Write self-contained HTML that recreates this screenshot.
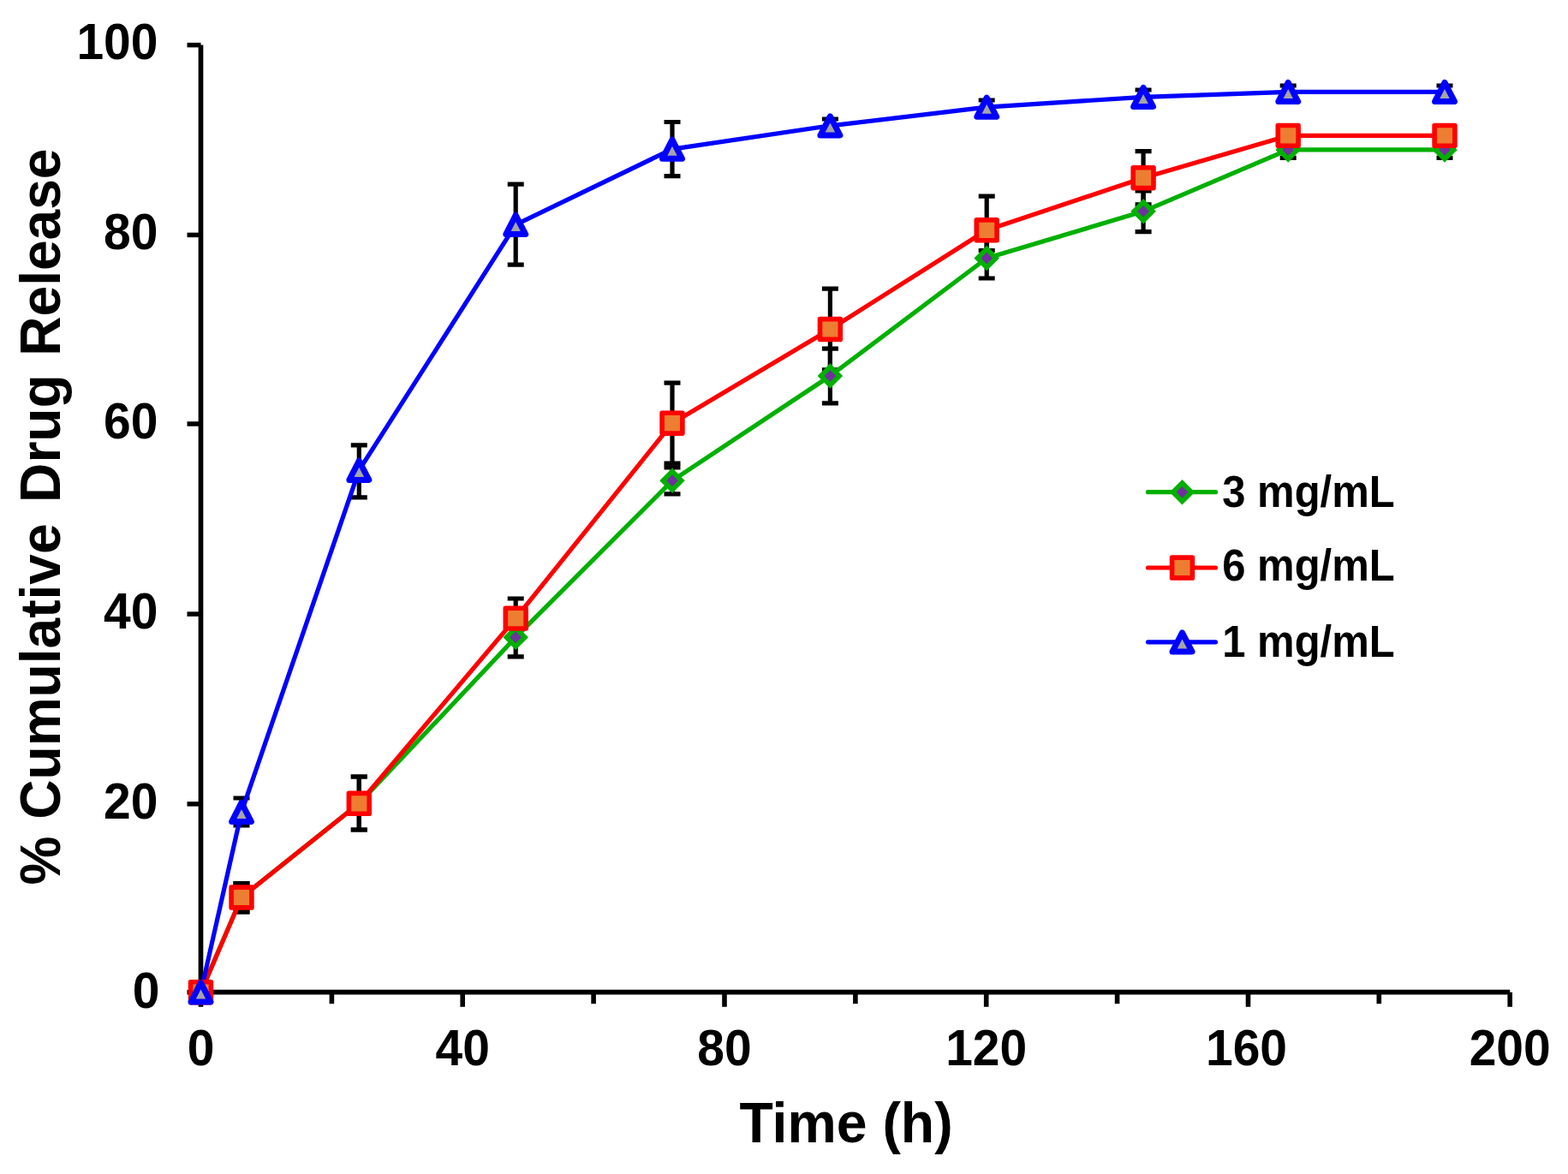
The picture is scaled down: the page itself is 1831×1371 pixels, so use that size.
<!DOCTYPE html>
<html><head><meta charset="utf-8"><title>% Cumulative Drug Release vs Time</title>
<style>
html,body{margin:0;padding:0;background:#fff;}
body{width:1831px;height:1371px;overflow:hidden;}
svg{display:block;}
text{font-family:'Liberation Sans', Arial, Helvetica, sans-serif;font-weight:bold;fill:#000;}
</style></head><body>
<svg width="1831" height="1371" viewBox="0 0 1831 1371">
<rect width="1831" height="1371" fill="#fff"/>

<path d="M234.5 52.6V1158.7H1763.2" fill="none" stroke="#000" stroke-width="5.7" stroke-linejoin="miter"/>
<line x1="218.5" y1="52.6" x2="234.5" y2="52.6" stroke="#000" stroke-width="5.5"/>
<line x1="218.5" y1="274.4" x2="234.5" y2="274.4" stroke="#000" stroke-width="5.5"/>
<line x1="218.5" y1="495.0" x2="234.5" y2="495.0" stroke="#000" stroke-width="5.5"/>
<line x1="218.5" y1="717.1" x2="234.5" y2="717.1" stroke="#000" stroke-width="5.5"/>
<line x1="218.5" y1="938.9" x2="234.5" y2="938.9" stroke="#000" stroke-width="5.5"/>
<line x1="218.5" y1="1158.7" x2="234.5" y2="1158.7" stroke="#000" stroke-width="5.5"/>
<line x1="234.5" y1="1158.7" x2="234.5" y2="1175.8" stroke="#000" stroke-width="5.6"/>
<line x1="387.4" y1="1158.7" x2="387.4" y2="1172.2" stroke="#000" stroke-width="5.6"/>
<line x1="540.2" y1="1158.7" x2="540.2" y2="1175.8" stroke="#000" stroke-width="5.6"/>
<line x1="693.1" y1="1158.7" x2="693.1" y2="1172.2" stroke="#000" stroke-width="5.6"/>
<line x1="846.0" y1="1158.7" x2="846.0" y2="1175.8" stroke="#000" stroke-width="5.6"/>
<line x1="998.9" y1="1158.7" x2="998.9" y2="1172.2" stroke="#000" stroke-width="5.6"/>
<line x1="1151.7" y1="1158.7" x2="1151.7" y2="1175.8" stroke="#000" stroke-width="5.6"/>
<line x1="1304.6" y1="1158.7" x2="1304.6" y2="1172.2" stroke="#000" stroke-width="5.6"/>
<line x1="1457.5" y1="1158.7" x2="1457.5" y2="1175.8" stroke="#000" stroke-width="5.6"/>
<line x1="1610.3" y1="1158.7" x2="1610.3" y2="1172.2" stroke="#000" stroke-width="5.6"/>
<line x1="1763.2" y1="1158.7" x2="1763.2" y2="1175.8" stroke="#000" stroke-width="5.6"/>
<text transform="translate(184.5 69.2) scale(1 1.045)" text-anchor="end" font-size="57">100</text>
<text transform="translate(184.5 291.0) scale(1 1.045)" text-anchor="end" font-size="57">80</text>
<text transform="translate(184.5 511.6) scale(1 1.045)" text-anchor="end" font-size="57">60</text>
<text transform="translate(184.5 733.7) scale(1 1.045)" text-anchor="end" font-size="57">40</text>
<text transform="translate(184.5 955.5) scale(1 1.045)" text-anchor="end" font-size="57">20</text>
<text transform="translate(186.5 1177.1) scale(1 1.045)" text-anchor="end" font-size="57">0</text>
<text transform="translate(234.5 1243.6) scale(1 1.045)" text-anchor="middle" font-size="57">0</text>
<text transform="translate(540.2 1243.6) scale(1 1.045)" text-anchor="middle" font-size="57">40</text>
<text transform="translate(846.0 1243.6) scale(1 1.045)" text-anchor="middle" font-size="57">80</text>
<text transform="translate(1151.7 1243.6) scale(1 1.045)" text-anchor="middle" font-size="57">120</text>
<text transform="translate(1455.5 1243.6) scale(1 1.045)" text-anchor="middle" font-size="57">160</text>
<text transform="translate(1763.2 1243.6) scale(1 1.045)" text-anchor="middle" font-size="57">200</text>
<text transform="translate(988.0 1333.9) scale(1 1.045)" text-anchor="middle" font-size="64.4">Time (h)</text>
<text transform="translate(69.5 0) rotate(-90) scale(1 1.045)" font-size="64.1"><tspan x="-1033.5">% </tspan><tspan x="-956.8">Cumulative </tspan><tspan x="-586.9">Drug </tspan><tspan x="-415.8">Release</tspan></text>
<path d="M282.0 1031.7V1064.8M272.5 1031.7H291.5M272.5 1064.8H291.5" stroke="#000" stroke-width="5.2" fill="none"/>
<path d="M419.3 907.0V969.0M409.8 907.0H428.8M409.8 969.0H428.8" stroke="#000" stroke-width="5.2" fill="none"/>
<path d="M602.2 721.6V766.8M592.7 721.6H611.7M592.7 766.8H611.7" stroke="#000" stroke-width="5.2" fill="none"/>
<path d="M785.0 545.8V576.8M775.5 545.8H794.5M775.5 576.8H794.5" stroke="#000" stroke-width="5.2" fill="none"/>
<path d="M969.4 407.1V470.9M959.9 407.1H978.9M959.9 470.9H978.9" stroke="#000" stroke-width="5.2" fill="none"/>
<path d="M1152.2 278.0V325.0M1142.7 278.0H1161.7M1142.7 325.0H1161.7" stroke="#000" stroke-width="5.2" fill="none"/>
<path d="M1335.1 222.9V270.7M1325.6 222.9H1344.6M1325.6 270.7H1344.6" stroke="#000" stroke-width="5.2" fill="none"/>
<path d="M1504.2 165.4V184.4M1494.7 165.4H1513.7M1494.7 184.4H1513.7" stroke="#000" stroke-width="5.2" fill="none"/>
<path d="M1687.0 165.4V184.4M1677.5 165.4H1696.5M1677.5 184.4H1696.5" stroke="#000" stroke-width="5.2" fill="none"/>
<path d="M282.0 1031.7V1064.8M272.5 1031.7H291.5M272.5 1064.8H291.5" stroke="#000" stroke-width="5.2" fill="none"/>
<path d="M419.3 907.0V969.0M409.8 907.0H428.8M409.8 969.0H428.8" stroke="#000" stroke-width="5.2" fill="none"/>
<path d="M602.2 699.0V745.0M592.7 699.0H611.7M592.7 745.0H611.7" stroke="#000" stroke-width="5.2" fill="none"/>
<path d="M785.0 447.2V541.2M775.5 447.2H794.5M775.5 541.2H794.5" stroke="#000" stroke-width="5.2" fill="none"/>
<path d="M969.4 337.2V431.8M959.9 337.2H978.9M959.9 431.8H978.9" stroke="#000" stroke-width="5.2" fill="none"/>
<path d="M1152.2 229.2V292.5M1142.7 229.2H1161.7M1142.7 292.5H1161.7" stroke="#000" stroke-width="5.2" fill="none"/>
<path d="M1335.1 176.6V238.8M1325.6 176.6H1344.6M1325.6 238.8H1344.6" stroke="#000" stroke-width="5.2" fill="none"/>
<path d="M1504.2 153.0V164.0M1494.7 153.0H1513.7M1494.7 164.0H1513.7" stroke="#000" stroke-width="5.2" fill="none"/>
<path d="M1687.0 153.0V164.0M1677.5 153.0H1696.5M1677.5 164.0H1696.5" stroke="#000" stroke-width="5.2" fill="none"/>
<path d="M282.0 932.0V964.0M272.5 932.0H291.5M272.5 964.0H291.5" stroke="#000" stroke-width="5.2" fill="none"/>
<path d="M419.3 519.9V580.8M409.8 519.9H428.8M409.8 580.8H428.8" stroke="#000" stroke-width="5.2" fill="none"/>
<path d="M602.2 215.1V309.1M592.7 215.1H611.7M592.7 309.1H611.7" stroke="#000" stroke-width="5.2" fill="none"/>
<path d="M785.0 142.5V205.7M775.5 142.5H794.5M775.5 205.7H794.5" stroke="#000" stroke-width="5.2" fill="none"/>
<path d="M969.4 139.0V154.6M959.9 139.0H978.9M959.9 154.6H978.9" stroke="#000" stroke-width="5.2" fill="none"/>
<path d="M1152.2 117.0V133.0M1142.7 117.0H1161.7M1142.7 133.0H1161.7" stroke="#000" stroke-width="5.2" fill="none"/>
<path d="M1335.1 105.0V121.5M1325.6 105.0H1344.6M1325.6 121.5H1344.6" stroke="#000" stroke-width="5.2" fill="none"/>
<path d="M1504.2 100.0V115.0M1494.7 100.0H1513.7M1494.7 115.0H1513.7" stroke="#000" stroke-width="5.2" fill="none"/>
<path d="M1687.0 100.0V115.0M1677.5 100.0H1696.5M1677.5 115.0H1696.5" stroke="#000" stroke-width="5.2" fill="none"/>
<polyline points="234.5,1158.7 282.0,1048.0 419.3,938.3 602.2,744.2 785.0,561.3 969.4,439.0 1152.2,301.5 1335.1,246.8 1504.2,174.9 1687.0,174.9" fill="none" stroke="#00B000" stroke-width="5.2" stroke-linejoin="round" stroke-linecap="round"/>
<polyline points="234.5,1158.7 282.0,1048.0 419.3,938.3 602.2,722.1 785.0,494.2 969.4,384.5 1152.2,268.8 1335.1,207.7 1504.2,158.4 1687.0,158.4" fill="none" stroke="#FF0000" stroke-width="5.2" stroke-linejoin="round" stroke-linecap="round"/>
<polyline points="234.5,1158.7 282.0,948.4 419.3,549.2 602.2,262.4 785.0,174.1 969.4,146.8 1152.2,125.1 1335.1,113.3 1504.2,107.4 1687.0,107.4" fill="none" stroke="#0000FF" stroke-width="5.2" stroke-linejoin="round" stroke-linecap="round"/>
<path d="M234.5 1147.9L245.3 1158.7L234.5 1169.5L223.7 1158.7Z" fill="#7030A0" stroke="#00B000" stroke-width="5.6" stroke-linejoin="miter"/>
<path d="M282.0 1037.2L292.8 1048.0L282.0 1058.8L271.2 1048.0Z" fill="#7030A0" stroke="#00B000" stroke-width="5.6" stroke-linejoin="miter"/>
<path d="M419.3 927.5L430.1 938.3L419.3 949.1L408.5 938.3Z" fill="#7030A0" stroke="#00B000" stroke-width="5.6" stroke-linejoin="miter"/>
<path d="M602.2 733.4L613.0 744.2L602.2 755.0L591.4 744.2Z" fill="#7030A0" stroke="#00B000" stroke-width="5.6" stroke-linejoin="miter"/>
<path d="M785.0 550.5L795.8 561.3L785.0 572.1L774.2 561.3Z" fill="#7030A0" stroke="#00B000" stroke-width="5.6" stroke-linejoin="miter"/>
<path d="M969.4 428.2L980.2 439.0L969.4 449.8L958.6 439.0Z" fill="#7030A0" stroke="#00B000" stroke-width="5.6" stroke-linejoin="miter"/>
<path d="M1152.2 290.7L1163.0 301.5L1152.2 312.3L1141.4 301.5Z" fill="#7030A0" stroke="#00B000" stroke-width="5.6" stroke-linejoin="miter"/>
<path d="M1335.1 236.0L1345.9 246.8L1335.1 257.6L1324.3 246.8Z" fill="#7030A0" stroke="#00B000" stroke-width="5.6" stroke-linejoin="miter"/>
<path d="M1504.2 164.1L1515.0 174.9L1504.2 185.7L1493.4 174.9Z" fill="#7030A0" stroke="#00B000" stroke-width="5.6" stroke-linejoin="miter"/>
<path d="M1687.0 164.1L1697.8 174.9L1687.0 185.7L1676.2 174.9Z" fill="#7030A0" stroke="#00B000" stroke-width="5.6" stroke-linejoin="miter"/>
<rect x="222.6" y="1146.8" width="23.8" height="23.8" fill="#ED7D31" stroke="#FF0000" stroke-width="5.6" stroke-linejoin="round"/>
<rect x="270.1" y="1036.1" width="23.8" height="23.8" fill="#ED7D31" stroke="#FF0000" stroke-width="5.6" stroke-linejoin="round"/>
<rect x="407.4" y="926.4" width="23.8" height="23.8" fill="#ED7D31" stroke="#FF0000" stroke-width="5.6" stroke-linejoin="round"/>
<rect x="590.3" y="710.2" width="23.8" height="23.8" fill="#ED7D31" stroke="#FF0000" stroke-width="5.6" stroke-linejoin="round"/>
<rect x="773.1" y="482.3" width="23.8" height="23.8" fill="#ED7D31" stroke="#FF0000" stroke-width="5.6" stroke-linejoin="round"/>
<rect x="957.5" y="372.6" width="23.8" height="23.8" fill="#ED7D31" stroke="#FF0000" stroke-width="5.6" stroke-linejoin="round"/>
<rect x="1140.3" y="256.9" width="23.8" height="23.8" fill="#ED7D31" stroke="#FF0000" stroke-width="5.6" stroke-linejoin="round"/>
<rect x="1323.2" y="195.8" width="23.8" height="23.8" fill="#ED7D31" stroke="#FF0000" stroke-width="5.6" stroke-linejoin="round"/>
<rect x="1492.3" y="146.5" width="23.8" height="23.8" fill="#ED7D31" stroke="#FF0000" stroke-width="5.6" stroke-linejoin="round"/>
<rect x="1675.1" y="146.5" width="23.8" height="23.8" fill="#ED7D31" stroke="#FF0000" stroke-width="5.6" stroke-linejoin="round"/>
<path d="M234.5 1147.7L245.9 1169.9L223.1 1169.9Z" fill="#A5A5A5" stroke="#0000FF" stroke-width="7" stroke-linejoin="round"/>
<path d="M282.0 937.4L293.4 959.6L270.6 959.6Z" fill="#A5A5A5" stroke="#0000FF" stroke-width="7" stroke-linejoin="round"/>
<path d="M419.3 538.2L430.8 560.4L407.9 560.4Z" fill="#A5A5A5" stroke="#0000FF" stroke-width="7" stroke-linejoin="round"/>
<path d="M602.2 251.4L613.7 273.6L590.8 273.6Z" fill="#A5A5A5" stroke="#0000FF" stroke-width="7" stroke-linejoin="round"/>
<path d="M785.0 163.1L796.5 185.3L773.5 185.3Z" fill="#A5A5A5" stroke="#0000FF" stroke-width="7" stroke-linejoin="round"/>
<path d="M969.4 135.8L980.9 158.0L957.9 158.0Z" fill="#A5A5A5" stroke="#0000FF" stroke-width="7" stroke-linejoin="round"/>
<path d="M1152.2 114.1L1163.7 136.3L1140.8 136.3Z" fill="#A5A5A5" stroke="#0000FF" stroke-width="7" stroke-linejoin="round"/>
<path d="M1335.1 102.3L1346.5 124.5L1323.6 124.5Z" fill="#A5A5A5" stroke="#0000FF" stroke-width="7" stroke-linejoin="round"/>
<path d="M1504.2 96.4L1515.7 118.6L1492.8 118.6Z" fill="#A5A5A5" stroke="#0000FF" stroke-width="7" stroke-linejoin="round"/>
<path d="M1687.0 96.4L1698.5 118.6L1675.5 118.6Z" fill="#A5A5A5" stroke="#0000FF" stroke-width="7" stroke-linejoin="round"/>
<line x1="1340.5" y1="574.7" x2="1419.5" y2="574.7" stroke="#00B000" stroke-width="5.2" stroke-linecap="round"/>
<path d="M1380.5 563.9L1391.3 574.7L1380.5 585.5L1369.7 574.7Z" fill="#7030A0" stroke="#00B000" stroke-width="5.6" stroke-linejoin="miter"/>
<text transform="translate(1427.2 591.6) scale(1 1.045)" font-size="49">3 mg/mL</text>
<line x1="1340.5" y1="663.0" x2="1419.5" y2="663.0" stroke="#FF0000" stroke-width="5.2" stroke-linecap="round"/>
<rect x="1368.6" y="651.1" width="23.8" height="23.8" fill="#ED7D31" stroke="#FF0000" stroke-width="5.6" stroke-linejoin="round"/>
<text transform="translate(1427.2 678.2) scale(1 1.045)" font-size="49">6 mg/mL</text>
<line x1="1340.5" y1="749.8" x2="1419.5" y2="749.8" stroke="#0000FF" stroke-width="5.2" stroke-linecap="round"/>
<path d="M1380.5 738.8L1392.0 761.0L1369.0 761.0Z" fill="#A5A5A5" stroke="#0000FF" stroke-width="7" stroke-linejoin="round"/>
<text transform="translate(1427.2 766.5) scale(1 1.045)" font-size="49">1 mg/mL</text>
</svg>
</body></html>
